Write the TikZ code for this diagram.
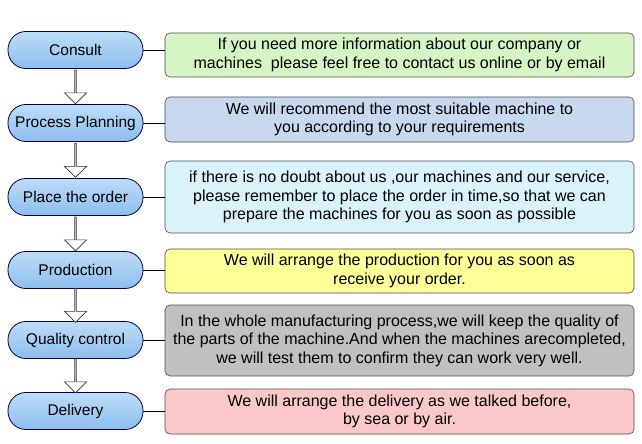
\documentclass[tikz,border=0pt]{standalone}
\usepackage{fontspec}
\setmainfont{Liberation Sans}
\usetikzlibrary{shapes.arrows}
\begin{document}
\begin{tikzpicture}[x=1pt,y=-1pt,
 pill/.style={draw=black!70!blue,line width=0.8pt,rounded corners=18pt,top color={rgb,255:red,190;green,220;blue,248},bottom color={rgb,255:red,140;green,190;blue,238},minimum width=135pt,minimum height=37pt,font=\fontsize{15.5}{17}\selectfont},
 info/.style={draw=black!70,line width=0.6pt,rounded corners=5pt,minimum width=469pt,align=center,font=\fontsize{16}{18.5}\selectfont},
 barr/.style={draw=black!80,fill=white,single arrow,shape border rotate=270,single arrow head extend=5pt,minimum width=22pt,single arrow tip angle=90,inner sep=0pt,line width=0.7pt},
 conn/.style={draw=black,line width=0.8pt}]
\useasboundingbox (0,0) rectangle (642,444);
\node[pill] (p1) at (75.5,50) {Consult};
\node[pill] (p2) at (75.5,123) {Process Planning};
\node[pill] (p3) at (75.5,197) {Place the order};
\node[pill] (p4) at (75.5,270) {Production};
\node[pill] (p5) at (75.5,340) {Quality control};
\node[pill] (p6) at (75.5,411) {Delivery};
\node[info,fill={rgb,255:red,214;green,245;blue,196},minimum height=44pt] (b1) at (399.5,55) {If you need more information about our company or\\machines\ \ please feel free to contact us online or by email};
\node[info,fill={rgb,255:red,200;green,216;blue,238},minimum height=45pt] (b2) at (399.5,119.5) {We will recommend the most suitable machine to\\you according to your requirements};
\node[info,fill={rgb,255:red,218;green,242;blue,250},minimum height=72pt] (b3) at (399.5,197) {if there is no doubt about us ,our machines and our service,\\please remember to place the order in time,so that we can\\prepare the machines for you as soon as possible};
\node[info,fill={rgb,255:red,255;green,255;blue,153},minimum height=44pt] (b4) at (399.5,271) {We will arrange the production for you as soon as\\receive your order.};
\node[info,fill={rgb,255:red,192;green,192;blue,192},minimum height=71pt] (b5) at (399.5,340.5) {In the whole manufacturing process,we will keep the quality of\\the parts of the machine.And when the machines arecompleted,\\we will test them to confirm they can work very well.};
\node[info,fill={rgb,255:red,250;green,200;blue,200},minimum height=45pt] (b6) at (399.5,411.5) {We will arrange the delivery as we talked before,\\by sea or by air.};
\foreach \i in {1,...,6}{\draw[conn] (p\i.east) -- (p\i.east -| b\i.west);}
\foreach \a/\b in {p1/p2,p2/p3,p3/p4,p4/p5,p5/p6}{
 \path (\a.south) -- (\b.north) node[midway,barr,minimum height=34pt] {};}
\end{tikzpicture}
\end{document}
